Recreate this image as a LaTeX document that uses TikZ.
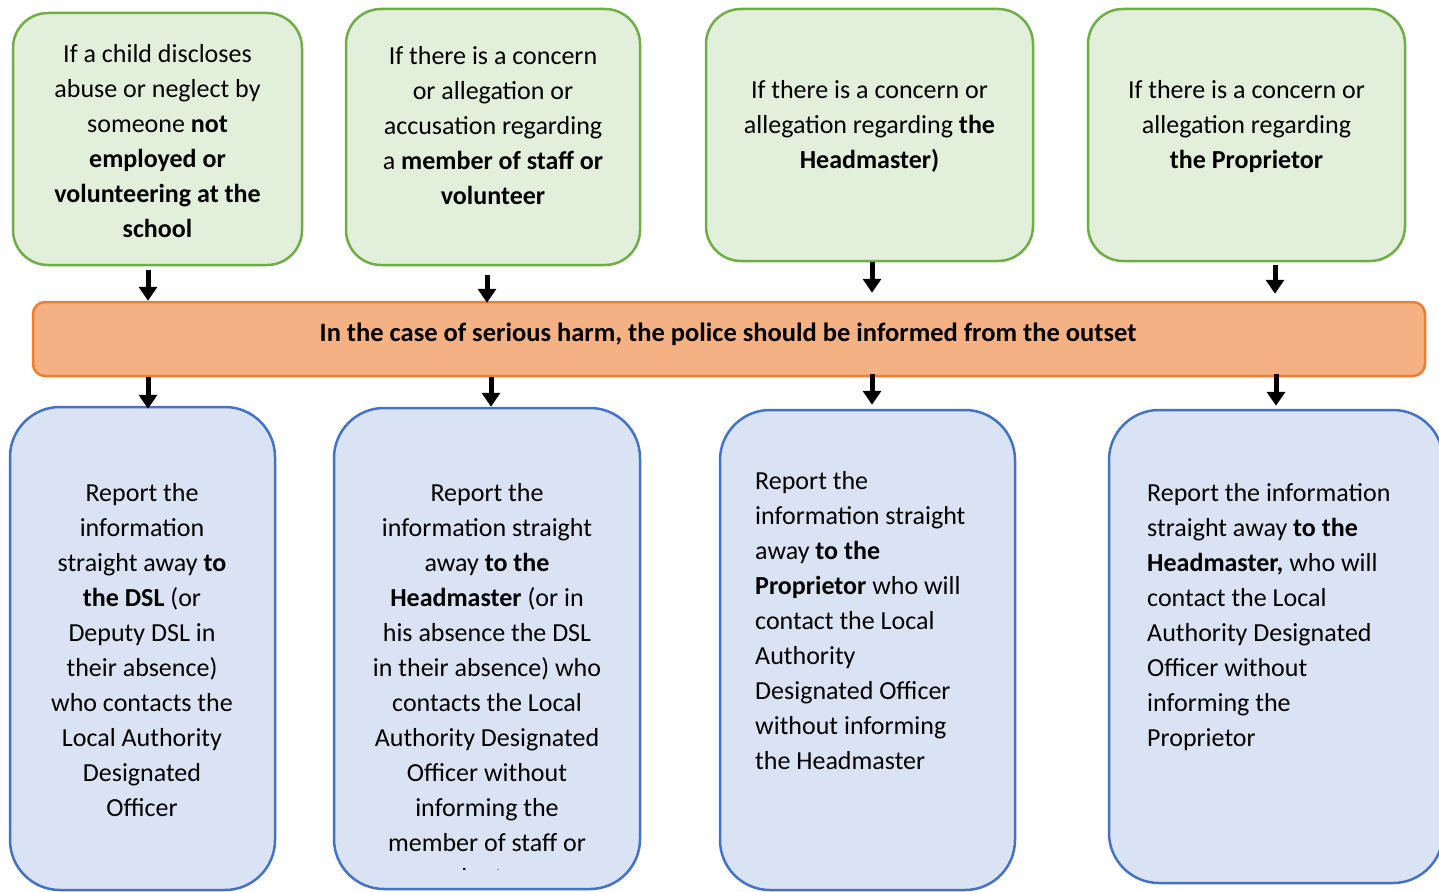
\documentclass[tikz,border=0pt]{standalone}
\usepackage{fontspec}
\setmainfont{Carlito}
\usepackage{tikz}
\usetikzlibrary{arrows.meta, positioning, calc}
\definecolor{concernfill}{HTML}{E2EFDA}
\definecolor{concernline}{HTML}{70AD47}
\definecolor{policefill}{HTML}{F4B183}
\definecolor{policeline}{HTML}{ED7D31}
\definecolor{reportfill}{HTML}{DAE3F3}
\definecolor{reportline}{HTML}{4472C4}
\tikzstyle{concern} = [draw=concernline, fill=concernfill, line width=2.5pt, rounded corners=35pt]
\tikzstyle{report} = [draw=reportline, fill=reportfill, line width=2.5pt, rounded corners=50pt]
\tikzstyle{police} = [draw=policeline, fill=policefill, line width=2.5pt, rounded corners=12pt]
\tikzstyle{txt} = [font=\fontsize{26}{35}\selectfont, inner sep=0pt]
\tikzstyle{arrow} = [line width=5pt, -{Triangle[width=18pt,length=14pt]}]

\begin{document}
\begin{tikzpicture}[x=1pt, y=-1pt]
        \useasboundingbox (0,0) rectangle (1439,891);
        \clip (0,0) rectangle (1439,891);

        % Top Layer: the concern
        \node (g1) [concern, minimum width=289pt, minimum height=252pt] at (157.5,139) {};
        \node (g2) [concern, minimum width=294pt, minimum height=256pt] at (493,137) {};
        \node (g3) [concern, minimum width=327pt, minimum height=252pt] at (869.5,135) {};
        \node (g4) [concern, minimum width=317pt, minimum height=252pt] at (1246.5,135) {};
        \node (g1t) [txt, align=center] at (157.5,141) {If a child discloses\\abuse or neglect by\\someone \textbf{not}\\\textbf{employed or}\\\textbf{volunteering at the}\\\textbf{school}};
        \node (g2t) [txt, align=center] at (493,126) {If there is a concern\\or allegation or\\accusation regarding\\a \textbf{member of staff or}\\\textbf{volunteer}};
        \node (g3t) [txt, align=center] at (869.5,126) {If there is a concern or\\allegation regarding \textbf{the}\\\textbf{Headmaster)}};
        \node (g4t) [txt, align=center] at (1246.5,126.5) {If there is a concern or\\allegation regarding\\\textbf{the Proprietor}};

        % Middle Layer: the police
        \node (bar) [police, minimum width=1392pt, minimum height=74pt] at (729,339) {};
        \node (bart) [txt, font=\fontsize{26.5}{32}\selectfont\bfseries] at (728,334) {In the case of serious harm, the police should be informed from the outset};

        % Bottom Layer: who to report to
        \node (r1) [report, minimum width=265pt, minimum height=483pt] at (142.5,648.5) {};
        \node (r2) [report, minimum width=306pt, minimum height=481pt] at (487,648.5) {};
        \node (r3) [report, minimum width=295pt, minimum height=480pt] at (867.5,650) {};
        \node (r4) [report, minimum width=334pt, minimum height=473pt] at (1276,646.5) {};
        \node (r1t) [txt, align=center] at (142,650.5) {Report the\\information\\straight away \textbf{to}\\\textbf{the DSL} (or\\Deputy DSL in\\their absence)\\who contacts the\\Local Authority\\Designated\\Officer};
        \begin{scope}
            % the text box cuts off its last line
            \clip (300,400) rectangle (680,869);
            \node (r2t) [txt, align=center] at (487,685) {Report the\\information straight\\away \textbf{to the}\\\textbf{Headmaster} (or in\\his absence the DSL\\in their absence) who\\contacts the Local\\Authority Designated\\Officer without\\informing the\\member of staff or\\volunteer};
        \end{scope}
        \node (r3t) [txt, align=left, anchor=west] at (755,621) {Report the\\information straight\\away \textbf{to the}\\\textbf{Proprietor} who will\\contact the Local\\Authority\\Designated Officer\\without informing\\the Headmaster};
        \node (r4t) [txt, align=left, anchor=west] at (1147,617.5) {Report the information\\straight away \textbf{to the}\\\textbf{Headmaster,} who will\\contact the Local\\Authority Designated\\Officer without\\informing the\\Proprietor};

        % Arrows
        \coordinate (a1) at (148,270);
        \coordinate (a2) at (487,275);
        \coordinate (a3) at (872,262);
        \coordinate (a4) at (1275,265);
        \draw[arrow] (a1) -- (a1 |- bar.north);
        \draw[arrow] (a2) -- ($(a2 |- bar.north)+(0,2)$);
        \draw[arrow] (a3) -- ($(a3 |- bar.north)+(0,-8)$);
        \draw[arrow] (a4) -- ($(a4 |- bar.north)+(0,-7)$);
        \draw[arrow] (a1 |- bar.south) -- ($(a1 |- r1.north)+(0,3)$);
        \draw[arrow] ($(a2 |- bar.south)+(4,0)$) -- ($(a2 |- r2.north)+(4,0)$);
        \draw[arrow] ($(a3 |- bar.south)+(0,-3)$) -- ($(a3 |- r3.north)+(0,-4)$);
        \draw[arrow] ($(a4 |- bar.south)+(1,-3)$) -- ($(a4 |- r4.north)+(1,-3)$);
    \end{tikzpicture}
\end{document}
